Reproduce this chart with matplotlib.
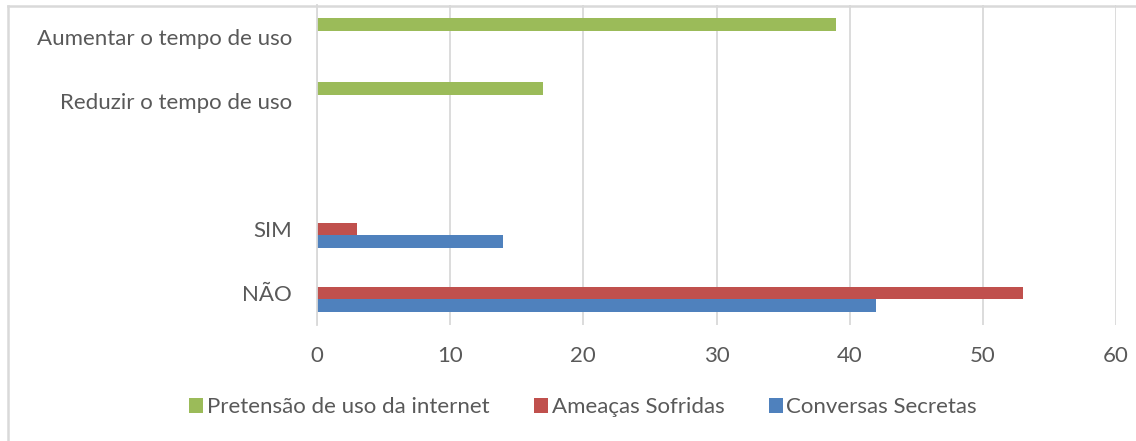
'''
Horizontal grouped bar chart: internet use survey answers.
'''

import numpy as np
import matplotlib.pyplot as plt
from matplotlib.lines import Line2D

# categories from bottom to top (one empty slot between groups)
categories = ['NÃO', 'SIM', '', 'Reduzir o tempo de uso', 'Aumentar o tempo de uso']

conversas = [42, 14, 0, 0, 0]
ameacas = [53, 3, 0, 0, 0]
pretensao = [0, 0, 0, 17, 39]

series_names = ['Conversas Secretas', 'Ameaças Sofridas', 'Pretensão de uso da internet']
colors = ['#4f81bd', '#c0504d', '#9bbb59']

x_ticks = [0, 10, 20, 30, 40, 50, 60]

text_color = '#595959'
grid_color = '#d9d9d9'

plt.rcParams['font.family'] = ['Lato', 'DejaVu Sans']

fig = plt.figure(figsize=(11.36, 4.41), dpi=100)
W, H = 1136, 441
ax = fig.add_axes([317 / W, 1 - 325 / H, (1116 - 317) / W, 320 / H])

y = np.arange(len(categories))
h = 0.2
bars = []
for i, (vals, name, c) in enumerate(zip([conversas, ameacas, pretensao], series_names, colors)):
    b = ax.barh(y + (i - 1) * h, vals, height=h, color=c, label=name, zorder=3)
    bars.append(b)

ax.set_xlim(0, 60)
ax.set_ylim(-0.5, len(categories) - 0.5)
ax.set_xticks(x_ticks)
ax.set_yticks(y)
ax.set_yticklabels(categories)
ax.tick_params(axis='both', length=0, labelsize=16, labelcolor=text_color)
ax.tick_params(axis='x', pad=15)
ax.tick_params(axis='y', pad=18)
ax.grid(axis='x', color=grid_color, linewidth=1.3, zorder=0)

for s in ['top', 'right', 'bottom']:
    ax.spines[s].set_visible(False)
ax.spines['left'].set_color(grid_color)
ax.spines['left'].set_linewidth(1.3)
ax.spines['left'].set_zorder(4)

# legend in reversed order like the original
handles = bars[::-1]
fig.legend(handles, [b.get_label() for b in handles], loc='center',
           bbox_to_anchor=(583 / W, 1 - 407 / H), ncol=3, frameon=False,
           fontsize=16, labelcolor=text_color, handlelength=0.65, handleheight=0.65,
           handletextpad=0.15, columnspacing=2.0)

# chart border (top and left edges only visible)
fig.add_artist(Line2D([7.5 / W, 7.5 / W], [0, 1 - 5.5 / H], transform=fig.transFigure,
                      color=grid_color, linewidth=1.8))
fig.add_artist(Line2D([7.5 / W, 1], [1 - 5.5 / H, 1 - 5.5 / H], transform=fig.transFigure,
                      color=grid_color, linewidth=1.8))

plt.savefig('out.png', dpi=100)
